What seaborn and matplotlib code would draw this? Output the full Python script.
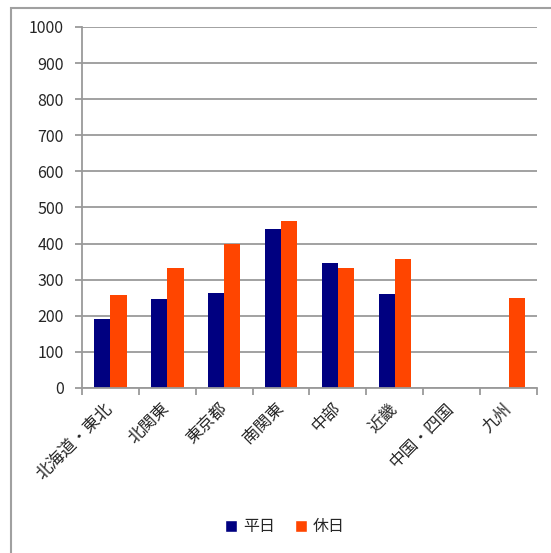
import numpy as np
import pandas as pd
import matplotlib.pyplot as plt
import seaborn as sns
from matplotlib.patches import Patch

# data
regions = ["北海道・東北", "北関東", "東京都", "南関東", "中部", "近畿", "中国・四国", "九州"]
weekday = [190, 246, 264, 440, 345, 260, np.nan, np.nan]
holiday = [257, 332, 400, 462, 332, 357, np.nan, 249]
series = ["平日", "休日"]
colors = ["#000080", "#FF4500"]

df = pd.DataFrame({"region": regions * 2,
                   "value": weekday + holiday,
                   "kind": [series[0]] * len(regions) + [series[1]] * len(regions)})

sns.set_theme(style="white")
plt.rcParams["font.family"] = ["Noto Sans CJK JP", "DejaVu Sans"]

fig = plt.figure(figsize=(5.51, 5.53), dpi=100)
ax = fig.add_axes([0.1488, 0.2984, 0.9746 - 0.1488, 0.9512 - 0.2984])

sns.barplot(data=df, x="region", y="value", hue="kind", order=regions,
            hue_order=series, palette=colors, saturation=1, width=0.57,
            linewidth=0, ax=ax, legend=False)

ax.set_ylim(0, 1000)
ax.set_xlim(-0.5, len(regions) - 0.5)
ax.set_yticks(range(0, 1001, 100))
ax.yaxis.grid(True, color="#9a9a9a", linewidth=1.3)
ax.set_axisbelow(True)
ax.set_xlabel("")
ax.set_ylabel("")

for side in ["top", "right"]:
    ax.spines[side].set_visible(False)
for side in ["left", "bottom"]:
    ax.spines[side].set_color("#9a9a9a")
    ax.spines[side].set_linewidth(1.3)

# tick marks on category boundaries, labels on centres
ax.set_xticks(np.arange(-0.5, len(regions)), minor=True)
ax.set_xticks(range(len(regions)))
ax.set_xticklabels(regions, rotation=45, ha="right", va="center",
                   rotation_mode="anchor")
ax.tick_params(axis="x", which="major", length=0, pad=13, labelsize=12)
ax.tick_params(axis="x", which="minor", length=5, width=1.3, color="#9a9a9a",
               direction="out", bottom=True)
ax.tick_params(axis="y", length=5, width=1.3, color="#9a9a9a", direction="out",
               left=True, pad=8, labelsize=11.5)

# outer frame
fig.add_artist(plt.Rectangle((11 / 551, -0.1), 1.2, 1 - 8 / 553 + 0.1,
                             transform=fig.transFigure, fill=False,
                             edgecolor="#a0a0a0", linewidth=1.5))

handles = [Patch(facecolor=c, label=s) for c, s in zip(colors, series)]
fig.legend(handles=handles, loc="center", bbox_to_anchor=(285 / 551, 1 - 527 / 553),
           ncol=2, frameon=False, fontsize=11.5, handlelength=0.75, handleheight=0.75,
           handletextpad=0.4, columnspacing=1.2)

fig.savefig("out.png", dpi=100)
